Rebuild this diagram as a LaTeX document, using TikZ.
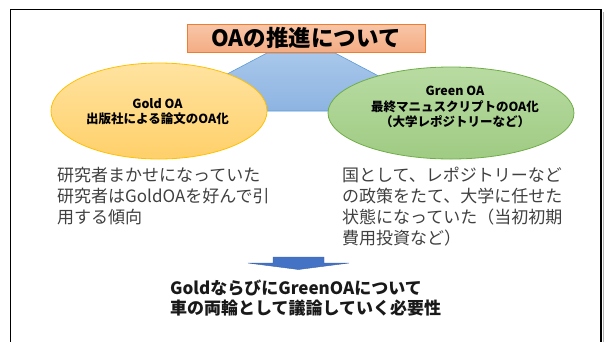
\documentclass[tikz,border=0pt]{standalone}
\usepackage{fontspec}
\newfontfamily\jp{Noto Sans CJK JP}
\usetikzlibrary{shapes.geometric}
\definecolor{tborder}{HTML}{ED7D31}
\definecolor{ttop}{HTML}{F8C6A8}
\definecolor{tbot}{HTML}{F4AC84}
\definecolor{trapb}{HTML}{5B9BD5}
\definecolor{traptop}{HTML}{A8C7EA}
\definecolor{trapbot}{HTML}{8DB4E2}
\definecolor{goldb}{HTML}{FFC000}
\definecolor{goldtop}{HTML}{FFE3A0}
\definecolor{goldbot}{HTML}{FFD06A}
\definecolor{greenb}{HTML}{70AD47}
\definecolor{greentop}{HTML}{B8DBA2}
\definecolor{greenbot}{HTML}{9FCB83}
\definecolor{arrowblue}{HTML}{4472C4}
\definecolor{bodygray}{HTML}{404040}
\tikzset{
  titlebox/.style={draw=tborder, line width=0.8pt, top color=ttop, bottom color=tbot,
    minimum width=238pt, minimum height=28pt, inner sep=0pt,
    font=\jp\bfseries\fontsize{22.5}{26}\selectfont},
  goldell/.style={ellipse, draw=goldb, line width=0.8pt, top color=goldtop, bottom color=goldbot,
    minimum width=216pt, minimum height=96pt, inner sep=0pt},
  greenell/.style={ellipse, draw=greenb, line width=0.8pt, top color=greentop, bottom color=greenbot,
    minimum width=246pt, minimum height=92pt, inner sep=0pt},
  elltext/.style={align=center, inner sep=0pt, font=\jp\bfseries\fontsize{12.5}{15.5}\selectfont},
  bodytext/.style={align=left, inner sep=0pt, anchor=west, text=bodygray,
    font=\jp\fontsize{17}{21}\selectfont},
  concl/.style={align=left, inner sep=0pt, anchor=west, text=black!90,
    font=\jp\bfseries\fontsize{17}{20.5}\selectfont}
}
\begin{document}
\begin{tikzpicture}[x=1pt,y=-1pt]
\useasboundingbox (0,0) rectangle (606,341);
% frame
\draw[line width=1.6pt] (10.5,350) -- (10.5,9.5) -- (601,9.5) -- (601,350);
\draw[black!30, line width=1.5pt] (603.5,12) -- (603.5,350);
% trapezoid
\draw[draw=trapb, line width=0.6pt, top color=traptop, bottom color=trapbot]
  (267,53) -- (335,53) -- (445,111) -- (157,111) -- cycle;
% ellipses
\node[goldell] (gold) at (159,111) {};
\node[greenell] (green) at (451,113) {};
\node[elltext] (goldtxt) at (157.5,111.5) {Gold OA\\出版社による論文のOA化};
\node[elltext] (greentxt) at (455,107) {Green OA\\最終マニュスクリプトのOA化\\（大学レポジトリーなど）};
% title
\node[titlebox] (title) at (306,38) {OAの推進について};
% body texts
\node[bodytext] (lefttxt) at (57,196) {研究者まかせになっていた\\研究者はGoldOAを好んで引\\用する傾向};
\node[bodytext] (righttxt) at (342,206.5) {国として、レポジトリーなど\\の政策をたて、大学に任せた\\状態になっていた（当初初期\\費用投資など）};
% arrow
\filldraw[fill=arrowblue, draw=arrowblue!85!black, line width=0.4pt]
  (273,257) -- (324,257) -- (324,263) -- (349,263) -- (298.5,269.5) -- (248,263) -- (273,263) -- cycle;
% conclusion
\node[concl] (conc) at (170,298) {GoldならびにGreenOAについて\\車の両輪として議論していく必要性};
\end{tikzpicture}
\end{document}
